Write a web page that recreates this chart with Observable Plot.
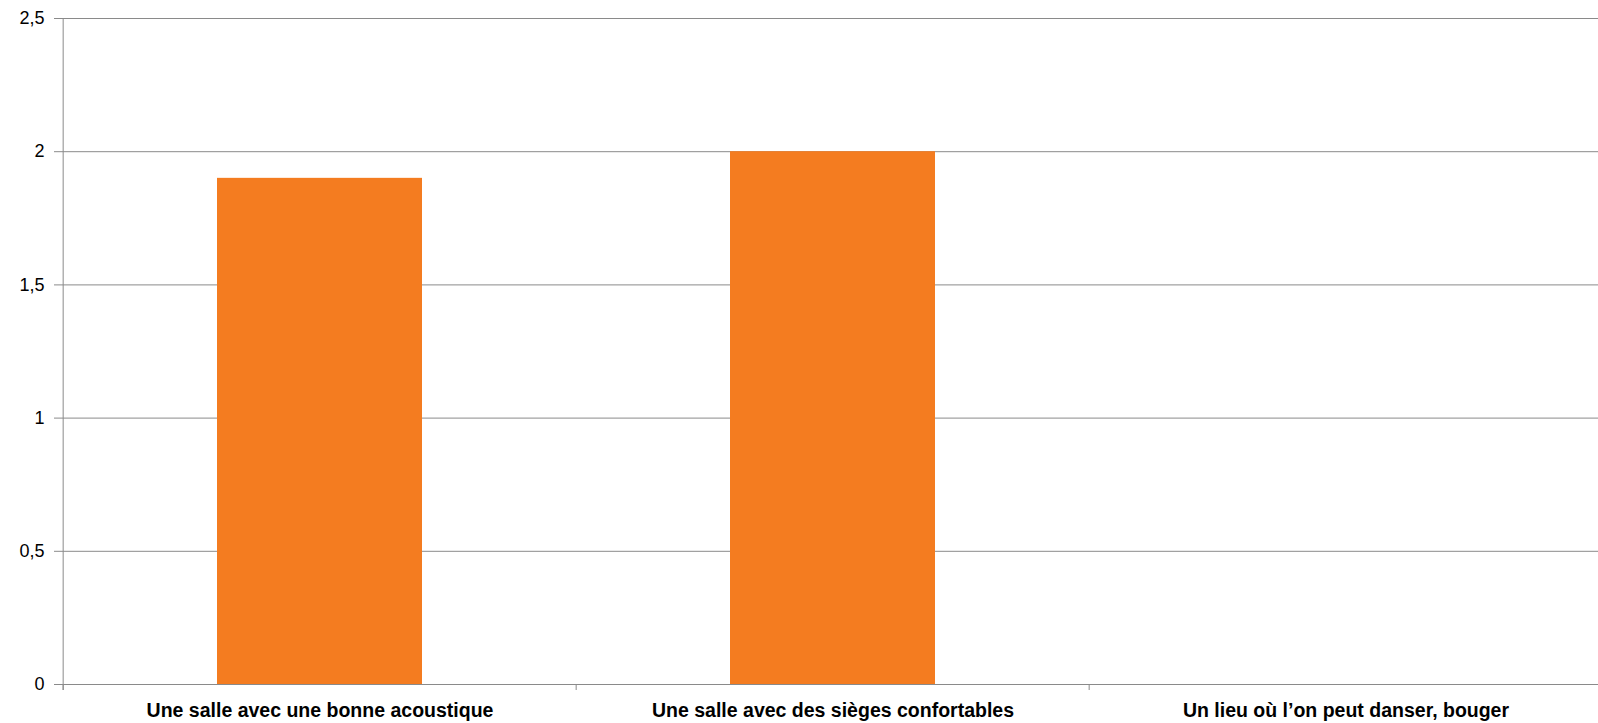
<!DOCTYPE html>
<html>
<head>
<meta charset="utf-8">
<script src="https://cdn.jsdelivr.net/npm/d3@7"></script>
<script src="https://cdn.jsdelivr.net/npm/@observablehq/plot@0.6"></script>
<style>
  html, body { margin: 0; padding: 0; background: #fff; }
</style>
</head>
<body>
<div id="chart"></div>
<script>
const categories = [
  "Une salle avec une bonne acoustique",
  "Une salle avec des sièges confortables",
  "Un lieu où l’on peut danser, bouger"
];
const values = [1.9, 2, 0];
const yTicks = [0, 0.5, 1, 1.5, 2, 2.5];

const data = categories.map((c, i) => ({category: c, value: values[i]}));

const W = 1598, H = 723, mL = 62, mR = -5, mT = 18, mB = 39;
const step = (W - mL - mR) / categories.length;
const grey = "#8a8a8a";

const chart = Plot.plot({
  width: W,
  height: H,
  marginLeft: mL,
  marginRight: mR,
  marginTop: mT,
  marginBottom: mB,
  style: {fontFamily: "Liberation Sans, Arial, sans-serif", color: "#000", background: "#fff", overflow: "hidden"},
  x: {domain: categories, paddingInner: 0.6, paddingOuter: 0.3, label: null},
  y: {domain: [0, 2.5], label: null},
  marks: [
    Plot.gridY(yTicks, {stroke: grey, strokeOpacity: 1}),
    Plot.barY(data, {x: "category", y: "value", fill: "#f47c20"}),
    Plot.ruleX([categories[0]], {dx: -step / 2, stroke: grey, insetBottom: -6}),
    Plot.ruleY([0], {stroke: grey}),
    Plot.axisY({ticks: yTicks, tickSize: 8, tickPadding: 10, stroke: grey, fontSize: 18,
      tickFormat: d => String(d).replace(".", ","), label: null}),
    Plot.axisX({tickSize: 6, dx: -step / 2, text: null, stroke: grey, label: null}),
    Plot.axisX({tickSize: 0, tickPadding: 19, fontSize: 19.5, fontWeight: "bold", label: null})
  ]
});
document.getElementById("chart").appendChild(chart);
</script>
</body>
</html>
